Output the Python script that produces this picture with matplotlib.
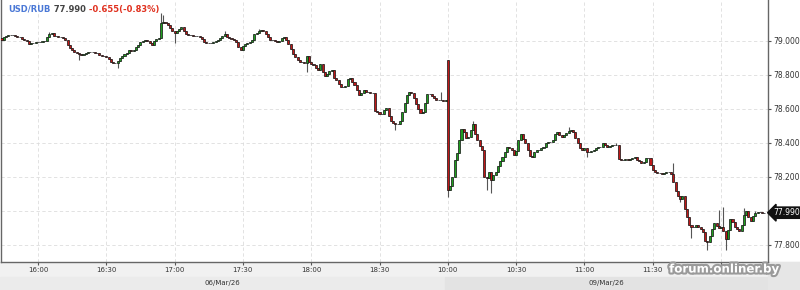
import numpy as np
import matplotlib
matplotlib.use('Agg')
from matplotlib import pyplot as plt
from matplotlib.patches import Rectangle
import matplotlib.patheffects as pe

# 1-minute closes, 06/Mar 15:44-18:59 then 09/Mar 10:00-12:19
closes_day1 = [
    79.006, 79.024, 79.029, 79.035, 79.035, 79.035, 79.029, 79.024, 79.024, 79.012,
    79.006, 79.000, 78.982, 78.988, 78.988, 78.994, 78.994, 78.994, 79.000, 79.000,
    79.024, 79.041, 79.047, 79.029, 79.029, 79.024, 79.024, 79.018, 79.006, 78.976,
    78.959, 78.947, 78.935, 78.929, 78.924, 78.918, 78.924, 78.929, 78.935, 78.935,
    78.935, 78.929, 78.929, 78.918, 78.912, 78.912, 78.906, 78.894, 78.876, 78.871,
    78.871, 78.882, 78.900, 78.912, 78.924, 78.929, 78.947, 78.941, 78.947, 78.965,
    78.976, 78.994, 79.000, 79.006, 79.000, 78.988, 78.976, 79.000, 79.012, 79.018,
    79.106, 79.112, 79.106, 79.094, 79.076, 79.059, 79.047, 79.059, 79.071, 79.082,
    79.059, 79.041, 79.035, 79.035, 79.029, 79.029, 79.029, 79.024, 79.012, 78.994,
    78.988, 78.988, 78.988, 78.994, 79.000, 79.006, 79.018, 79.029, 79.041, 79.024,
    79.018, 79.012, 79.006, 78.994, 78.965, 78.947, 78.971, 78.982, 78.988, 78.994,
    79.006, 79.041, 79.047, 79.059, 79.065, 79.059, 79.041, 79.024, 79.006, 79.006,
    79.000, 78.994, 79.000, 79.018, 79.024, 79.006, 78.982, 78.953, 78.924, 78.906,
    78.888, 78.876, 78.876, 78.871, 78.912, 78.876, 78.865, 78.859, 78.841, 78.829,
    78.865, 78.818, 78.794, 78.806, 78.824, 78.829, 78.782, 78.771, 78.747, 78.729,
    78.729, 78.735, 78.776, 78.782, 78.759, 78.741, 78.712, 78.682, 78.694, 78.712,
    78.700, 78.700, 78.694, 78.694, 78.588, 78.582, 78.571, 78.571, 78.594, 78.606,
    78.559, 78.529, 78.518, 78.512, 78.512, 78.529, 78.582, 78.635, 78.682, 78.700,
    78.694, 78.665, 78.629, 78.600, 78.576, 78.582, 78.635, 78.688, 78.688, 78.676,
    78.665, 78.653, 78.653, 78.653, 78.647, 78.653,
]
closes_day2 = [
    78.124, 78.147, 78.200, 78.300, 78.341, 78.418, 78.482, 78.465, 78.429, 78.435,
    78.476, 78.512, 78.453, 78.418, 78.382, 78.359, 78.200, 78.194, 78.229, 78.182,
    78.212, 78.229, 78.265, 78.294, 78.318, 78.347, 78.376, 78.371, 78.359, 78.329,
    78.353, 78.418, 78.453, 78.424, 78.400, 78.359, 78.324, 78.318, 78.347, 78.359,
    78.359, 78.371, 78.376, 78.400, 78.406, 78.406, 78.418, 78.453, 78.465, 78.447,
    78.435, 78.447, 78.459, 78.471, 78.476, 78.465, 78.429, 78.400, 78.371, 78.359,
    78.371, 78.347, 78.347, 78.353, 78.359, 78.371, 78.376, 78.376, 78.400, 78.388,
    78.376, 78.382, 78.388, 78.388, 78.388, 78.306, 78.300, 78.300, 78.306, 78.300,
    78.306, 78.312, 78.318, 78.300, 78.294, 78.282, 78.288, 78.312, 78.312, 78.271,
    78.241, 78.229, 78.224, 78.224, 78.218, 78.224, 78.229, 78.229, 78.218, 78.171,
    78.118, 78.088, 78.071, 78.088, 78.012, 77.965, 77.918, 77.906, 77.906, 77.918,
    77.906, 77.894, 77.876, 77.824, 77.818, 77.853, 77.894, 77.929, 77.912, 77.900,
    77.906, 77.882, 77.835, 77.888, 77.953, 77.935, 77.906, 77.894, 77.882, 77.918,
    77.976, 78.000, 77.965, 77.941, 77.971, 77.988, 77.994, 77.994, 77.988, 77.990,
]
first_open = 79.018
gap_open = 78.888

# wick extremes that stick out of the bodies (candle index: price)
wick_hi = {21: 79.053, 70: 79.165, 71: 79.150, 98: 79.059, 113: 79.071, 193: 78.700,
           196: 78.888, 207: 78.529, 249: 78.494, 270: 78.400, 295: 78.282,
           315: 78.006, 317: 78.024, 326: 78.018, 331: 78.000}
wick_lo = {34: 78.888, 51: 78.841, 76: 78.988, 134: 78.818, 173: 78.476, 196: 78.082,
           213: 78.124, 215: 78.106, 257: 78.318, 298: 78.053, 303: 77.841,
           310: 77.771, 318: 77.771}

time_ticks = [16, 46, 76, 106, 136, 166, 196, 226, 256, 286, 316]
time_labels = ['16:00', '16:30', '17:00', '17:30', '18:00', '18:30',
               '10:00', '10:30', '11:00', '11:30', '12:00']
price_ticks = [77.8, 78.0, 78.2, 78.4, 78.6, 78.8, 79.0]
last_price = 77.990

closes = np.array(closes_day1 + closes_day2)
opens = np.r_[first_open, closes[:-1]]
opens[len(closes_day1)] = gap_open
idx = np.arange(len(closes))
highs = np.maximum(opens, closes)
lows = np.minimum(opens, closes)
for k, v in wick_hi.items():
    highs[k] = max(highs[k], v)
for k, v in wick_lo.items():
    lows[k] = min(lows[k], v)

W, H = 800, 290
fig = plt.figure(figsize=(8, 2.9), dpi=100, facecolor='white')

# bottom bands (behind the axes)
bands = [((0, 0), 1, 28 / H, '#f1f1f1'),
         ((0, 0), 445 / W, 13 / H, '#ebebeb'),
         ((445 / W, 0), 323 / W, 13 / H, '#e3e3e3'),
         ((768 / W, 0), 32 / W, 28 / H, '#e6e6e6')]
for xy, w, h, col in bands:
    fig.patches.append(Rectangle(xy, w, h, transform=fig.transFigure,
                                 color=col, zorder=-5))

ax = fig.add_axes([1 / W, 28 / H, 767 / W, 262 / H])
ax.set_xlim(-0.23, 336.6)
ax.set_ylim(77.700, 79.241)

up = closes >= opens
colors = np.where(up, '#1f9e1f', '#c01818')
ax.vlines(idx, lows, highs, color='#555555', linewidth=0.8, zorder=2)
ax.bar(idx, closes - opens, bottom=opens, width=0.9, color=colors,
       edgecolor='#111111', linewidth=0.5, zorder=3)

ax.set_xticks(time_ticks)
ax.set_xticklabels(time_labels)
ax.yaxis.tick_right()
ax.set_yticks(price_ticks)
ax.set_yticklabels(['%.3f' % p for p in price_ticks])
ax.tick_params(axis='x', labelsize=5, colors='#555555', labelcolor='#333333',
               length=2, pad=1.5)
ax.tick_params(axis='y', labelsize=5.5, colors='#555555', labelcolor='#333333',
               length=2.5, pad=1)
ax.grid(True, color='#dddddd', linewidth=0.6, linestyle=(0, (4, 3)))
ax.set_axisbelow(True)
ax.spines['top'].set_visible(False)
for s in ['left', 'right', 'bottom']:
    ax.spines[s].set_color('#666666')
    ax.spines[s].set_linewidth(1)

# last price marker
ax.annotate('%.3f' % last_price, xy=(1.0, last_price), xycoords=('axes fraction', 'data'),
            xytext=(4, 0), textcoords='offset points', ha='left', va='center',
            fontsize=5.5, color='white', annotation_clip=False, zorder=10,
            bbox=dict(boxstyle='larrow,pad=0.15', fc='#111111', ec='#111111'))

# header
t1 = ax.text(0.01, 0.965, 'USD/RUB', transform=ax.transAxes, fontsize=6,
             fontweight='bold', color='#4a78d6', va='center', ha='left')
t2 = ax.annotate(' %.3f' % last_price, xy=(1, 0.5), xycoords=t1, va='center',
                 ha='left', fontsize=6, fontweight='bold', color='#444444')
t3 = ax.annotate(' -0.655(-0.83%)', xy=(1, 0.5), xycoords=t2, va='center',
                 ha='left', fontsize=6, fontweight='bold', color='#e0301e')

# day labels
fig.text(222 / W, 7 / H, '06/Mar/26', fontsize=5, color='#333333', ha='center', va='center')
fig.text(606 / W, 7 / H, '09/Mar/26', fontsize=5, color='#333333', ha='center', va='center')

# watermark
fig.text(724 / W, 1 - 269 / H, 'forum.onliner.by', fontsize=8.5, fontweight='bold',
         color='white', ha='center', va='center', zorder=20,
         path_effects=[pe.withStroke(linewidth=3, foreground='#9a9a9a')])

fig.savefig('out.png', dpi=100, facecolor=fig.get_facecolor())
